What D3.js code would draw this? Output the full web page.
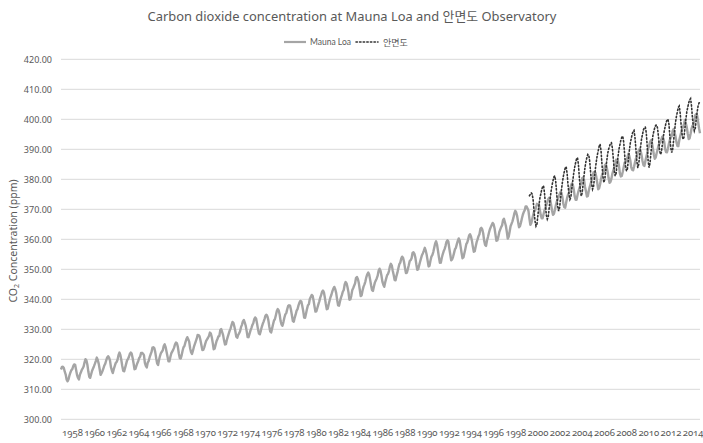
<!DOCTYPE html>
<html><head><meta charset="utf-8">
<script src="https://cdn.jsdelivr.net/npm/d3@7"></script>
<style>
html,body{margin:0;padding:0;background:#fff;}
svg text{font-family:"Noto Sans","Noto Sans CJK KR",sans-serif;fill:#595959;}
</style></head><body>
<svg id="chart" width="703" height="443"></svg>
<script>
// ---- data ----
const title = "Carbon dioxide concentration at Mauna Loa and 안면도 Observatory";
const seriesNames = ["Mauna Loa", "안면도"];
const yTicks = [300,310,320,330,340,350,360,370,380,390,400,410,420];
const xTickLabels = ["1958","1960","1962","1964","1966","1968","1970","1972","1974","1976","1978","1980","1982","1984","1986","1988","1990","1992","1994","1996","1998","2000","2002","2004","2006","2008","2010","2012","2014"];
// Monthly categories start at March 1958
const firstCategory = [1958, 3];
// Mauna Loa monthly CO2 (ppm), one row per year
const maunaLoa = [
[316.60,317.45,317.50,317.10,315.86,314.93,313.20,312.66,313.33,314.67],
[315.62,316.38,316.71,317.72,318.29,318.15,316.54,314.80,313.84,313.26,314.80,315.58],
[316.43,316.97,317.58,319.02,320.03,319.59,318.18,315.91,314.16,313.83,315.00,316.19],
[316.93,317.70,318.54,319.48,320.58,319.77,318.57,316.79,314.80,315.38,316.10,317.01],
[317.94,318.56,319.68,320.63,321.01,320.55,319.58,317.40,316.26,315.42,316.69,317.69],
[318.74,319.08,319.86,321.39,322.25,321.47,319.74,317.77,316.21,315.99,317.12,318.31],
[319.57,320.07,320.73,321.77,322.25,321.89,320.44,318.70,316.70,316.79,317.79,318.71],
[319.44,320.44,320.89,322.13,322.16,321.87,321.39,318.81,317.81,317.30,318.87,319.42],
[320.62,321.59,322.39,323.87,324.01,323.75,322.39,320.37,318.64,318.10,319.79,321.08],
[322.07,322.50,323.04,324.42,325.00,324.09,322.55,320.92,319.31,319.31,320.72,321.96],
[322.57,323.15,323.89,325.02,325.57,325.36,324.14,322.03,320.41,320.25,321.31,322.84],
[324.00,324.42,325.64,326.66,327.38,326.70,325.89,323.67,322.38,321.78,322.85,324.11],
[325.03,325.99,326.87,328.13,328.07,327.66,326.35,324.69,323.10,323.16,323.98,325.13],
[326.17,326.68,327.18,327.78,328.92,328.57,327.34,325.46,323.36,323.57,324.80,326.01],
[326.77,327.63,327.75,329.72,330.07,329.09,328.05,326.32,324.93,325.06,326.50,327.55],
[328.54,329.56,330.30,331.50,332.48,332.07,330.87,329.31,327.51,327.18,328.16,328.64],
[329.35,330.71,331.48,332.65,333.09,332.25,331.18,329.40,327.43,327.37,328.46,329.57],
[330.40,331.40,332.04,333.31,333.96,333.59,331.91,330.06,328.56,328.34,329.49,330.76],
[331.75,332.56,333.50,334.58,334.87,334.34,333.05,330.94,329.30,328.94,330.31,331.68],
[332.93,333.42,334.70,336.07,336.74,336.27,334.93,332.75,331.58,331.16,332.40,333.85],
[334.97,335.39,336.64,337.76,338.01,337.89,336.54,334.68,332.76,332.54,333.92,334.95],
[336.23,336.76,337.96,338.89,339.47,339.29,337.73,336.09,333.91,333.86,335.29,336.73],
[338.01,338.36,340.08,340.77,341.46,341.17,339.56,337.60,335.88,336.01,337.10,338.21],
[339.23,340.47,341.38,342.51,342.91,342.25,340.49,338.43,336.69,336.85,338.36,339.61],
[340.75,341.61,342.70,343.56,344.13,343.35,342.06,339.82,337.97,337.86,339.26,340.49],
[341.38,342.52,343.10,344.94,345.75,345.32,343.99,342.39,339.86,339.99,341.16,342.99],
[343.70,344.51,345.28,347.08,347.43,346.79,345.40,343.28,341.07,341.35,342.98,344.22],
[344.97,345.99,347.42,348.35,348.93,348.25,346.56,344.69,343.09,342.80,344.24,345.56],
[346.29,346.96,347.86,349.55,350.21,349.54,347.94,345.91,344.86,344.17,345.66,346.90],
[348.02,348.47,349.42,350.99,351.84,351.25,349.52,348.10,346.44,346.36,347.81,348.96],
[350.43,351.72,352.22,353.59,354.22,353.79,352.39,350.44,348.72,348.88,350.07,351.34],
[352.76,353.07,353.68,355.42,355.67,355.13,353.90,351.67,349.80,349.99,351.30,352.52],
[353.66,354.70,355.39,356.20,357.16,356.22,354.82,352.91,350.96,351.18,352.83,354.21],
[354.72,355.75,357.16,358.60,359.34,358.24,356.17,354.02,352.15,352.21,353.75,354.99],
[355.99,356.72,357.81,359.15,359.66,359.25,357.02,355.00,353.01,353.31,354.16,355.40],
[356.70,357.16,358.38,359.46,360.28,359.60,357.57,355.52,353.70,353.98,355.33,356.80],
[358.36,358.91,359.97,361.26,361.68,360.95,359.55,357.49,355.84,356.00,357.59,359.05],
[359.98,361.03,361.66,363.48,363.82,363.30,361.94,359.50,358.11,357.80,359.61,360.74],
[362.09,363.29,364.06,364.76,365.45,365.01,363.70,361.54,359.51,359.65,360.80,362.38],
[363.23,364.06,364.61,366.40,366.84,365.68,364.52,362.57,360.24,360.83,362.49,364.34],
[365.16,365.98,367.13,368.61,369.49,368.95,367.74,365.79,364.01,364.35,365.52,366.93],
[368.18,369.07,369.68,370.99,370.96,370.30,369.45,366.90,364.81,365.37,366.72,368.10],
[369.29,369.54,370.60,371.82,371.58,371.70,369.86,368.13,367.00,367.03,368.37,369.67],
[370.59,371.51,372.43,373.37,373.85,373.22,371.50,369.61,368.18,368.45,369.76,371.24],
[372.53,373.20,374.12,375.02,375.76,375.52,374.01,371.85,370.75,370.55,372.25,373.79],
[374.88,375.64,376.45,377.73,378.60,378.28,376.70,374.38,373.17,373.15,374.66,375.99],
[377.00,377.87,378.88,380.35,380.62,379.69,377.47,376.01,374.25,374.46,376.16,377.51],
[378.46,379.73,380.77,382.29,382.45,382.21,380.74,378.74,376.70,377.00,378.35,380.11],
[381.38,382.19,382.67,384.61,385.03,384.05,382.46,380.41,378.85,379.13,380.15,381.82],
[382.89,383.90,384.58,386.50,386.56,386.10,384.50,381.99,380.96,381.12,382.45,383.95],
[385.52,385.82,386.03,387.21,388.54,387.76,386.36,384.09,383.18,382.99,384.19,385.56],
[386.94,387.48,388.82,389.55,390.14,389.48,388.03,386.11,384.74,384.43,386.02,387.42],
[388.71,390.20,391.17,392.46,393.00,392.15,390.20,388.35,386.85,387.24,388.67,389.79],
[391.33,391.86,392.60,393.25,394.19,393.74,392.51,390.13,389.08,389.00,390.28,391.86],
[393.12,393.86,394.40,396.18,396.74,395.71,394.36,392.39,391.11,391.05,392.98,394.34],
[395.55,396.80,397.43,398.41,399.78,398.61,397.32,395.20,393.45,393.70,395.16,396.84],
[397.85,398.01,399.77,401.38,401.78,401.25,399.10,397.03,395.38]
];
// 안면도 monthly CO2 (ppm); first value sits on the category of August 1999
const anmyeondoFirstCategory = [1999, 8];
const anmyeondo = [
[374.5,375.0,375.5,375.0,373.0,369.0,366.0,364.4,365.0,368.0,371.0,373.5],
[375.0,376.5,377.5,377.8,375.5,371.5,368.0,366.7,367.5,370.5,373.5,376.0],
[378.0,379.5,380.8,381.1,379.0,375.0,371.0,369.4,370.5,373.5,376.5,379.0],
[381.0,382.5,383.8,384.2,382.0,378.0,375.0,373.3,374.0,377.0,379.5,382.0],
[384.0,385.5,386.8,387.2,385.0,380.5,376.5,374.4,375.5,378.5,381.5,384.0],
[386.0,387.3,388.3,388.0,386.0,382.0,378.5,376.7,377.5,380.5,383.5,386.0],
[388.0,389.5,391.0,391.7,389.5,385.0,381.0,378.9,380.0,383.0,386.0,388.5],
[390.0,391.0,392.0,392.2,390.5,387.0,383.0,381.1,382.0,385.0,387.5,390.0],
[391.5,393.0,394.0,394.4,392.5,388.5,384.5,382.8,383.5,386.5,389.5,392.0],
[393.5,395.0,396.0,396.3,394.0,390.0,386.0,383.9,385.0,388.0,391.0,393.5],
[395.0,396.5,397.2,397.4,395.5,391.0,386.0,383.9,385.5,389.0,392.0,394.5],
[396.0,397.2,398.0,398.1,397.0,394.0,390.0,388.3,389.0,391.5,394.0,396.0],
[397.5,398.8,399.8,400.0,398.5,394.5,390.5,388.9,390.0,393.0,396.0,399.0],
[401.0,402.5,404.0,404.4,402.0,398.0,395.0,393.3,394.0,397.0,400.0,402.5],
[404.0,405.5,406.5,406.9,404.5,400.5,397.5,396.1,397.0,400.0,402.5,404.5],
[405.5,405.6]
];

// ---- build ----
const ml = maunaLoa.flat();
const an = anmyeondo.flat();
const catIndex = (ym) => (ym[0]-firstCategory[0])*12 + (ym[1]-firstCategory[1]);
const anStart = catIndex(anmyeondoFirstCategory);
const mlPts = ml.map((v,i)=>({i, v}));
const anPts = an.map((v,i)=>({i: i+anStart, v}));

const svg = d3.select("#chart");
const W = 703, H = 443;
const m = {left:61, right:3, top:59.3, bottom:23.7};

const x = d3.scaleLinear().domain([0, ml.length-1]).range([m.left, W-m.right]);
const y = d3.scaleLinear().domain([300,420]).range([H-m.bottom, m.top]);
const xl = d3.scalePoint().domain(xTickLabels).range([72, 692.6]);

// gridlines
svg.append("g").selectAll("line").data(yTicks).join("line")
  .attr("x1", m.left).attr("x2", W-m.right)
  .attr("y1", d=>y(d)).attr("y2", d=>y(d))
  .attr("stroke", "#d9d9d9").attr("stroke-width", 1);

// y axis
const ya = svg.append("g").attr("transform", `translate(${m.left-9},0)`)
  .call(d3.axisLeft(y).tickValues(yTicks).tickFormat(d3.format(".2f")).tickSize(0).tickPadding(0));
ya.select(".domain").remove();
ya.selectAll("text").attr("font-size", 9).style("fill","#595959");

// x axis labels
const xa = svg.append("g").attr("transform", `translate(0,${H-m.bottom})`)
  .call(d3.axisBottom(xl).tickSize(0).tickPadding(10));
xa.select(".domain").remove();
xa.selectAll("text").attr("font-size", 9.5).style("fill","#595959")
  .style("font-variant-numeric","oldstyle-nums");

// lines
const line = d3.line().x(d=>x(d.i)).y(d=>y(d.v));
svg.append("path").datum(mlPts).attr("d", line)
  .attr("fill","none").attr("stroke","#a5a5a5").attr("stroke-width",2.4).attr("stroke-linejoin","round");
svg.append("path").datum(anPts).attr("d", line)
  .attr("fill","none").attr("stroke","#333333").attr("stroke-width",1.6)
  .attr("stroke-dasharray","1.4,2.2").attr("stroke-linecap","round");

// title
svg.append("text").attr("x", 352).attr("y", 21).attr("text-anchor","middle")
  .attr("font-size", 12.9).style("fill","#595959").text(title);

// legend
const lg = svg.append("g");
lg.append("line").attr("x1",284).attr("x2",306).attr("y1",42).attr("y2",42)
  .attr("stroke","#a5a5a5").attr("stroke-width",2.2);
lg.append("text").attr("x",310).attr("y",45).attr("font-size",8.5)
  .style("font-family","Lato, sans-serif").text(seriesNames[0]);
lg.append("line").attr("x1",356).attr("x2",378).attr("y1",42).attr("y2",42)
  .attr("stroke","#333333").attr("stroke-width",1.6).attr("stroke-dasharray","1.4,2.2").attr("stroke-linecap","round");
lg.append("text").attr("x",383).attr("y",45.5).attr("font-size",9).text(seriesNames[1]);

// y axis title
const yt = svg.append("text").attr("transform","translate(17,241) rotate(-90)")
  .attr("text-anchor","middle").attr("font-size",10.5);
yt.append("tspan").text("CO");
yt.append("tspan").attr("font-size",7).attr("dy",2).text("2");
yt.append("tspan").attr("dy",-2).text(" Concentration (ppm)");
</script>
</body></html>
